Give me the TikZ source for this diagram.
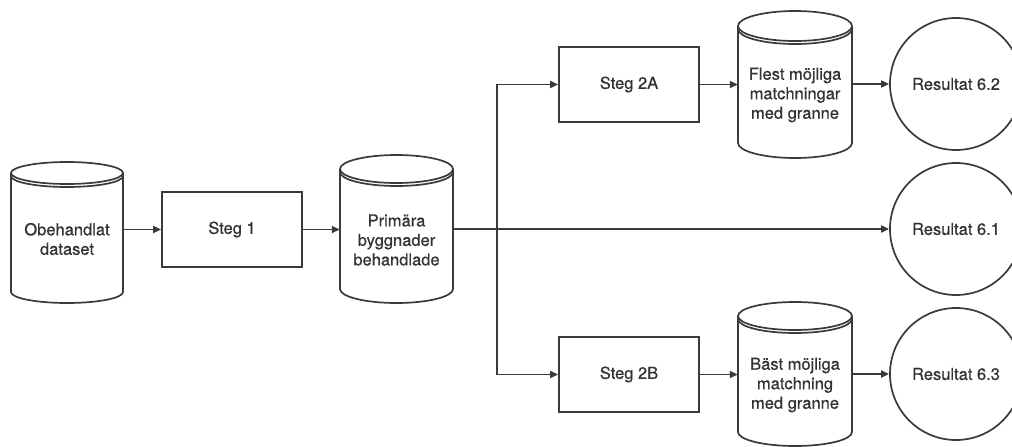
\documentclass[tikz,border=0pt]{standalone}
\usepackage{fontspec}
\setmainfont{TeX Gyre Heros}[FakeBold=0.6]
\usetikzlibrary{arrows.meta,calc}

\definecolor{ink}{HTML}{3A3A3A}
\definecolor{txt}{HTML}{333333}

% database cylinder: centre x, x radius, top y, bottom y, y radius of the caps
\newcommand\dbcyl[5]{%
  \draw[line] ({#1-#2},{#3+#5}) -- ({#1-#2},{#4-#5})
     arc[start angle=180,end angle=360,x radius=#2pt,y radius=#5pt]
     -- ({#1+#2},{#3+#5});
  \draw[line] (#1,{#3+#5}) ellipse [x radius=#2pt,y radius=#5pt];
  \draw[line] ({#1-#2},{#3+#5+3}) arc[start angle=180,end angle=360,x radius=#2pt,y radius=#5pt];
}

\tikzset{
  line/.style={draw=ink,line width=1.7pt},
  flow/.style={line,-{Triangle[length=8pt,width=7pt]}},
  stepbox/.style={line,rectangle,minimum width=140pt,minimum height=75pt,inner sep=0pt},
  store/.style={rectangle,draw=none,minimum height=60pt,inner sep=0pt,align=center},
  result/.style={line,circle,minimum size=132pt,inner sep=0pt},
  every node/.style={text=txt,font=\fontsize{16.5}{19.5}\selectfont}
}

\begin{document}
\begin{tikzpicture}[x=1pt,y=-1pt]
  \useasboundingbox (0,0) rectangle (1012,447);
  \clip (0,0) rectangle (1012,447);
  \fill[white] (0,0) rectangle (1012,447);

  % cylinders
  \dbcyl{67}{56}{162}{303}{11}
  \dbcyl{396.5}{56.5}{155}{303}{14}
  \dbcyl{795}{57}{11}{158}{15}
  \dbcyl{795}{57}{302}{446}{14}

  \node[store,minimum width=112pt] (c1) at (67,239) {Obehandlat\\dataset};
  \node[store,minimum width=113pt] (c2) at (396.5,240) {Primära\\byggnader\\behandlade};
  \node[store,minimum width=114pt] (c3) at (795,95) {Flest möjliga\\matchningar\\med granne};
  \node[store,minimum width=114pt] (c4) at (795,385) {Bäst möjliga\\matchning\\med granne};

  % processing steps
  \node[stepbox] (s1) at (232,229.5) {Steg 1};
  \node[stepbox] (s2a) at (629,84.5) {Steg 2A};
  \node[stepbox] (s2b) at (629,374.5) {Steg 2B};

  % results
  \node[result] (r2) at (956,84) {Resultat 6.2};
  \node[result] (r1) at (956,229) {Resultat 6.1};
  \node[result] (r3) at (956,374) {Resultat 6.3};

  % connectors
  \draw[flow] (s1.west -| c1.east) -- (s1.west);
  \draw[flow] (s1.east) -- (s1.east -| c2.west);
  \draw[flow] (c2.east |- r1.west) -- (r1.west);
  \coordinate (br) at (497,229);
  \draw[flow] (br) |- (s2a.west);
  \draw[flow] (br) |- (s2b.west);
  \draw[flow] (s2a.east) -- (s2a.east -| c3.west);
  \draw[flow] (s2b.east) -- (s2b.east -| c4.west);
  \draw[flow] (c3.east |- r2.west) -- (r2.west);
  \draw[flow] (c4.east |- r3.west) -- (r3.west);
\end{tikzpicture}
\end{document}
